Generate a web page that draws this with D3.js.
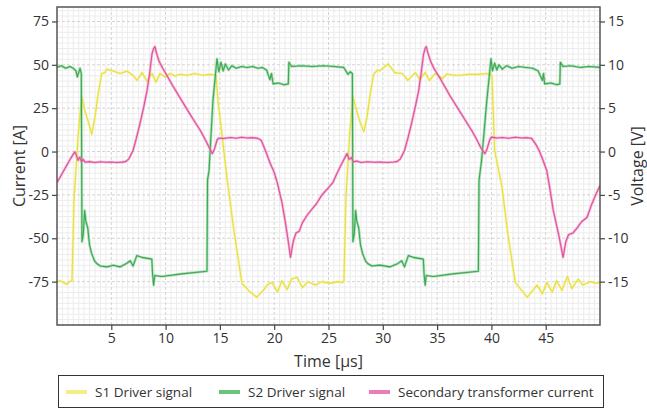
<!DOCTYPE html>
<html>
<head>
<meta charset="utf-8">
<script src="https://cdn.jsdelivr.net/npm/d3@7"></script>
<style>
  html, body { margin: 0; padding: 0; background: #fff; }
  svg { display: block; font-family: "Open Sans", "Noto Sans", sans-serif; }
</style>
</head>
<body>
<svg id="chart" width="647" height="410"></svg>
<script>
// Axis ticks
const timeTicks = [5, 10, 15, 20, 25, 30, 35, 40, 45];
const currentTicks = [-75, -50, -25, 0, 25, 50, 75];
const voltageTicks = [-15, -10, -5, 0, 5, 10, 15];

// S1 driver signal: [time µs, voltage V]
const s1Driver = [
  [0, -15.0], [0.3, -14.9], [0.6, -15.1], [0.9, -15.3], [1.15, -15.0], [1.38, -14.9],
  [1.57, -5.6], [1.96, 2.1], [2.27, 6.3], [2.58, 4.7], [2.88, 3.4], [3.2, 2.0],
  [3.5, 4.0], [3.8, 6.7], [4.12, 9.0], [4.42, 9.1], [4.58, 9.5], [5.16, 9.3],
  [5.8, 9.0], [6.45, 9.25], [7.0, 8.8], [7.37, 8.2], [7.83, 9.1], [8.29, 8.1],
  [8.75, 9.0], [9.12, 8.0], [9.48, 9.0], [9.94, 8.6], [10.4, 9.0], [10.9, 8.7],
  [11.3, 8.9], [12.0, 8.8], [12.7, 9.0], [13.4, 8.8], [14.1, 8.9], [14.64, 8.8],
  [14.82, 5.9], [15.65, -3.0], [16.3, -9.2], [17.03, -15.2], [17.8, -16.2],
  [18.4, -16.8], [19.0, -16.0], [19.4, -15.3], [19.8, -15.1], [20.3, -16.2],
  [20.7, -14.9], [21.2, -15.9], [21.6, -14.7], [22.1, -14.5], [22.6, -15.7],
  [23.1, -15.0], [23.8, -15.4], [24.4, -15.0], [25.1, -15.2], [25.9, -15.0],
  [26.3, -15.1], [26.42, -14.9],
  [26.6, -5.6], [26.95, 2.1], [27.25, 6.3], [27.6, 4.7], [27.9, 3.4], [28.25, 2.3],
  [28.55, 4.0], [28.85, 6.7], [29.15, 8.9], [29.5, 9.4], [29.7, 9.3], [30.5, 10.1],
  [31.1, 9.1], [31.8, 9.0], [32.3, 8.2], [33.0, 9.1], [33.4, 8.3], [33.9, 9.1],
  [34.3, 8.2], [34.8, 9.0], [35.5, 8.4], [35.9, 8.95], [36.5, 8.8], [37.1, 8.8],
  [37.9, 8.9], [38.7, 8.9], [39.7, 9.0], [40.05, 8.8],
  [40.3, 0.1], [40.98, -4.1], [41.5, -9.4], [42.2, -15.1], [43.3, -16.8],
  [44.2, -15.4], [44.7, -16.4], [45.1, -15.1], [45.6, -16.2], [46.0, -14.9],
  [46.5, -16.0], [47.0, -14.4], [47.4, -15.8], [48.0, -14.7], [48.4, -15.4],
  [49.1, -15.0], [49.7, -15.2], [50, -15.1]
];

// S2 driver signal: [time µs, voltage V]
const s2Driver = [
  [0, 9.7], [0.4, 9.9], [0.8, 9.6], [1.2, 9.8], [1.5, 9.6], [1.75, 9.3],
  [1.87, 8.6], [2.12, 9.6], [2.24, 9.0], [2.3, -10.4], [2.42, -9.5], [2.55, -6.8],
  [2.65, -8.0], [2.83, -8.8], [3.0, -10.8], [3.2, -11.8], [3.45, -12.6],
  [3.65, -12.9], [4.0, -13.2], [4.6, -13.3], [5.2, -13.1], [5.8, -13.3],
  [6.4, -12.9], [6.75, -12.6], [7.0, -13.2], [7.35, -12.0], [7.8, -12.2],
  [8.73, -12.4], [8.8, -14.1], [8.9, -15.4], [9.0, -14.3], [9.65, -14.4],
  [11.5, -14.1], [13.81, -13.8],
  [13.86, -3.3], [14.0, -2.2], [14.36, 5.9], [14.73, 10.7], [14.9, 9.2],
  [15.1, 10.3], [15.3, 9.3], [15.5, 10.1], [15.8, 9.4], [16.1, 9.9], [16.5, 9.6],
  [17.0, 9.8], [17.5, 9.7], [18.0, 9.8], [18.5, 9.6], [18.9, 9.7], [19.3, 9.4],
  [19.6, 8.3], [19.75, 9.0], [19.9, 7.8], [20.4, 7.9], [20.9, 7.7], [21.3, 7.8],
  [21.35, 10.3], [21.6, 9.8], [22.5, 9.9], [23.5, 9.8], [24.5, 9.9], [25.5, 9.8],
  [26.4, 9.7], [26.8, 8.9], [27.0, 9.2], [27.2, 9.0],
  [27.25, -10.4], [27.37, -9.5], [27.5, -6.8], [27.6, -8.0], [27.78, -8.8],
  [27.95, -10.8], [28.15, -11.8], [28.4, -12.6], [28.6, -12.9], [29.0, -13.2],
  [29.74, -13.1], [30.66, -13.3], [31.4, -12.9], [31.74, -12.6], [32.0, -13.3],
  [32.35, -12.0], [32.8, -12.2], [33.73, -12.4], [33.8, -14.1], [33.9, -15.4],
  [34.0, -14.3], [34.65, -14.4], [36.5, -14.1], [38.8, -13.8],
  [38.86, -3.3], [39.1, -1.0], [39.55, 5.5], [39.96, 10.7], [40.1, 9.3],
  [40.3, 10.2], [40.5, 9.4], [40.7, 10.0], [41.0, 9.5], [41.4, 9.9], [41.9, 9.6],
  [42.5, 9.8], [43.2, 9.7], [43.8, 9.6], [44.3, 9.3], [44.7, 8.2], [44.8, 9.0],
  [44.9, 7.8], [45.5, 7.9], [46.0, 7.7], [46.3, 7.8], [46.35, 10.3], [46.6, 9.8],
  [47.3, 9.9], [48.2, 9.7], [49.0, 9.8], [50, 9.7]
];

// Secondary transformer current: [time µs, current A]
const secondaryCurrent = [
  [0, -17.9], [0.4, -13.5], [0.8, -9.0], [1.2, -4.6], [1.5, -1.5], [1.65, -0.2],
  [1.8, -2.5], [1.95, -5.0], [2.1, -3.2], [2.25, -5.8], [2.4, -4.5], [2.6, -6.2],
  [3.0, -5.8], [3.5, -6.3], [4.0, -5.9], [4.5, -6.2], [5.0, -6.0], [5.5, -6.3],
  [6.0, -6.1], [6.3, -5.8], [6.6, -4.4], [7.0, 0.6], [7.3, 7.5], [7.64, 16.1],
  [8.0, 26], [8.29, 35.1], [8.55, 46], [8.75, 56.4], [8.9, 59.5], [9.02, 60.5],
  [9.15, 57], [9.4, 52], [9.7, 48.4], [10.2, 43], [10.7, 37.5], [11.2, 32.3],
  [11.6, 28.2], [12.1, 23], [12.6, 18], [13.2, 12.1], [13.6, 7.5], [14.0, 2.5],
  [14.3, -1.2], [14.5, 1.5], [14.75, 6.8], [14.9, 7.8], [15.3, 7.5], [16.0, 8.1],
  [16.5, 7.7], [17.0, 8.2], [17.5, 7.8], [18.0, 8.0], [18.5, 7.6], [18.8, 6.5],
  [19.2, 0.5], [19.6, -6.3], [20.0, -12], [20.3, -18.4], [20.7, -29], [21.0, -39.7],
  [21.3, -52], [21.5, -61], [21.75, -52], [22.0, -47], [22.3, -46], [22.6, -41],
  [23.0, -37], [23.5, -33], [23.9, -30], [24.4, -25], [24.9, -21.5], [25.4, -17.9],
  [25.9, -11], [26.3, -6], [26.7, -1.2], [26.9, -4.5], [27.1, -3.5], [27.3, -6.0],
  [27.6, -5.5], [28.0, -6.3], [28.6, -5.9], [29.2, -6.2], [29.8, -6.0], [30.4, -6.3],
  [31.0, -6.0], [31.3, -5.8], [31.6, -4.4], [32.0, 0.6], [32.3, 7.5], [32.64, 16],
  [33.0, 26], [33.3, 35], [33.55, 46], [33.75, 56], [33.9, 59.5], [34.0, 60.5],
  [34.15, 57], [34.4, 52], [34.7, 48], [35.2, 43], [35.7, 37.5], [36.2, 32],
  [36.6, 28], [37.1, 23], [37.6, 18], [38.2, 12], [38.6, 7.5], [39.0, 2.5],
  [39.4, -1.2], [39.6, 1.5], [39.85, 6.8], [40.0, 8.3], [40.5, 7.8], [41.0, 8.1],
  [41.6, 7.7], [42.2, 8.2], [42.8, 7.8], [43.3, 8.0], [43.7, 7.6], [44.1, 4],
  [44.4, 0.6], [44.75, -5], [45.1, -11], [45.4, -22], [45.7, -34], [46.2, -48],
  [46.6, -61], [46.85, -52], [47.1, -48], [47.5, -47], [47.9, -44], [48.3, -40.5],
  [48.8, -38], [49.2, -31], [49.6, -25], [50, -19.6]
];

const seriesNames = ["S1 Driver signal", "S2 Driver signal", "Secondary transformer current"];
const seriesColors = ["#e8df3a", "#38aa4e", "#e0509a"];
const haloColors = ["#f4ee88", "#78c888", "#ee88be"];
const legendColors = ["#f4ee84", "#6cc47c", "#ec7cb8"];

const svg = d3.select("#chart");
const plot = { left: 57, right: 600, top: 7, bottom: 325 };

const x = d3.scaleLinear().domain([0, 50]).range([plot.left, plot.right]);
const yA = d3.scaleLinear().domain([-100, 83.333]).range([plot.bottom, plot.top]);
const yV = d3.scaleLinear().domain([-20, 16.667]).range([plot.bottom, plot.top]);

// plot background
svg.append("rect")
  .attr("x", plot.left).attr("y", plot.top)
  .attr("width", plot.right - plot.left).attr("height", plot.bottom - plot.top)
  .attr("fill", "#fff");

// minor grid
const grid = svg.append("g");
grid.selectAll("line.mx")
  .data(d3.range(0.5, 50, 0.5).filter(t => t % 5 !== 0))
  .join("line")
  .attr("x1", d => x(d)).attr("x2", d => x(d))
  .attr("y1", plot.top).attr("y2", plot.bottom)
  .attr("stroke", "#ececec").attr("stroke-width", 1);
grid.selectAll("line.my")
  .data(d3.range(-100, 83.3, 3.125).filter(a => a % 25 !== 0))
  .join("line")
  .attr("x1", plot.left).attr("x2", plot.right)
  .attr("y1", d => yA(d)).attr("y2", d => yA(d))
  .attr("stroke", "#ececec").attr("stroke-width", 1);

// major grid (dashed)
grid.selectAll("line.gx")
  .data(timeTicks).join("line")
  .attr("x1", d => x(d)).attr("x2", d => x(d))
  .attr("y1", plot.top).attr("y2", plot.bottom)
  .attr("stroke", "#d4d4d4").attr("stroke-dasharray", "3,2");
grid.selectAll("line.gy")
  .data(currentTicks.concat([-100])).join("line")
  .attr("x1", plot.left).attr("x2", plot.right)
  .attr("y1", d => yA(d)).attr("y2", d => yA(d))
  .attr("stroke", "#d4d4d4").attr("stroke-dasharray", "3,2");

// traces
svg.append("clipPath").attr("id", "plotClip")
  .append("rect")
  .attr("x", plot.left).attr("y", plot.top)
  .attr("width", plot.right - plot.left).attr("height", plot.bottom - plot.top);

const traces = svg.append("g").attr("clip-path", "url(#plotClip)");
const lineV = d3.line().x(d => x(d[0])).y(d => yV(d[1]));
const lineA = d3.line().x(d => x(d[0])).y(d => yA(d[1]));

function drawTrace(data, gen, i) {
  traces.append("path").datum(data)
    .attr("d", gen).attr("fill", "none")
    .attr("stroke", haloColors[i]).attr("stroke-width", 2.6)
    .attr("stroke-linejoin", "round").attr("opacity", 0.6);
  traces.append("path").datum(data)
    .attr("d", gen).attr("fill", "none")
    .attr("stroke", seriesColors[i]).attr("stroke-width", 1.1)
    .attr("stroke-linejoin", "round");
}
drawTrace(s1Driver, lineV, 0);
drawTrace(s2Driver, lineV, 1);
drawTrace(secondaryCurrent, lineA, 2);

// frame
svg.append("rect")
  .attr("x", plot.left).attr("y", plot.top)
  .attr("width", plot.right - plot.left).attr("height", plot.bottom - plot.top)
  .attr("fill", "none").attr("stroke", "#555").attr("stroke-width", 1.5);

// axes
const plain = d => String(d);
const gx = svg.append("g").attr("transform", `translate(0,${plot.bottom})`)
  .call(d3.axisBottom(x).tickValues(timeTicks).tickFormat(plain).tickSize(5).tickPadding(3));
const gl = svg.append("g").attr("transform", `translate(${plot.left},0)`)
  .call(d3.axisLeft(yA).tickValues(currentTicks).tickFormat(plain).tickSize(5).tickPadding(3));
const gr = svg.append("g").attr("transform", `translate(${plot.right},0)`)
  .call(d3.axisRight(yV).tickValues(voltageTicks).tickFormat(plain).tickSize(5).tickPadding(3));
[gx, gl, gr].forEach(g => {
  g.select(".domain").remove();
  g.selectAll(".tick line").attr("stroke", "#444").attr("stroke-width", 1.2);
  g.selectAll(".tick text").attr("fill", "#333").style("font-size", "14px")
    .style("font-family", "'Open Sans', 'Noto Sans', sans-serif");
});

// axis titles
svg.append("text")
  .attr("x", (plot.left + plot.right) / 2).attr("y", 367)
  .attr("text-anchor", "middle").attr("fill", "#333")
  .style("font-size", "16px").text("Time [µs]");
svg.append("text")
  .attr("transform", `translate(25,${(plot.top + plot.bottom) / 2}) rotate(-90)`)
  .attr("text-anchor", "middle").attr("fill", "#333")
  .style("font-size", "16px").text("Current [A]");
svg.append("text")
  .attr("transform", `translate(643,${(plot.top + plot.bottom) / 2}) rotate(-90)`)
  .attr("text-anchor", "middle").attr("fill", "#333")
  .style("font-size", "16px").text("Voltage [V]");

// legend
const legend = svg.append("g");
legend.append("rect")
  .attr("x", 58.5).attr("y", 375.5).attr("width", 545).attr("height", 32)
  .attr("fill", "#fff").attr("stroke", "#333").attr("stroke-width", 1);
const legendX = [66, 219, 369];
seriesNames.forEach((name, i) => {
  legend.append("line")
    .attr("x1", legendX[i]).attr("x2", legendX[i] + 21)
    .attr("y1", 392).attr("y2", 392)
    .attr("stroke", legendColors[i]).attr("stroke-width", 4);
  legend.append("text")
    .attr("x", legendX[i] + 29).attr("y", 392).attr("dy", "0.35em")
    .attr("fill", "#333").style("font-size", "13.5px").text(name);
});
</script>
</body>
</html>
